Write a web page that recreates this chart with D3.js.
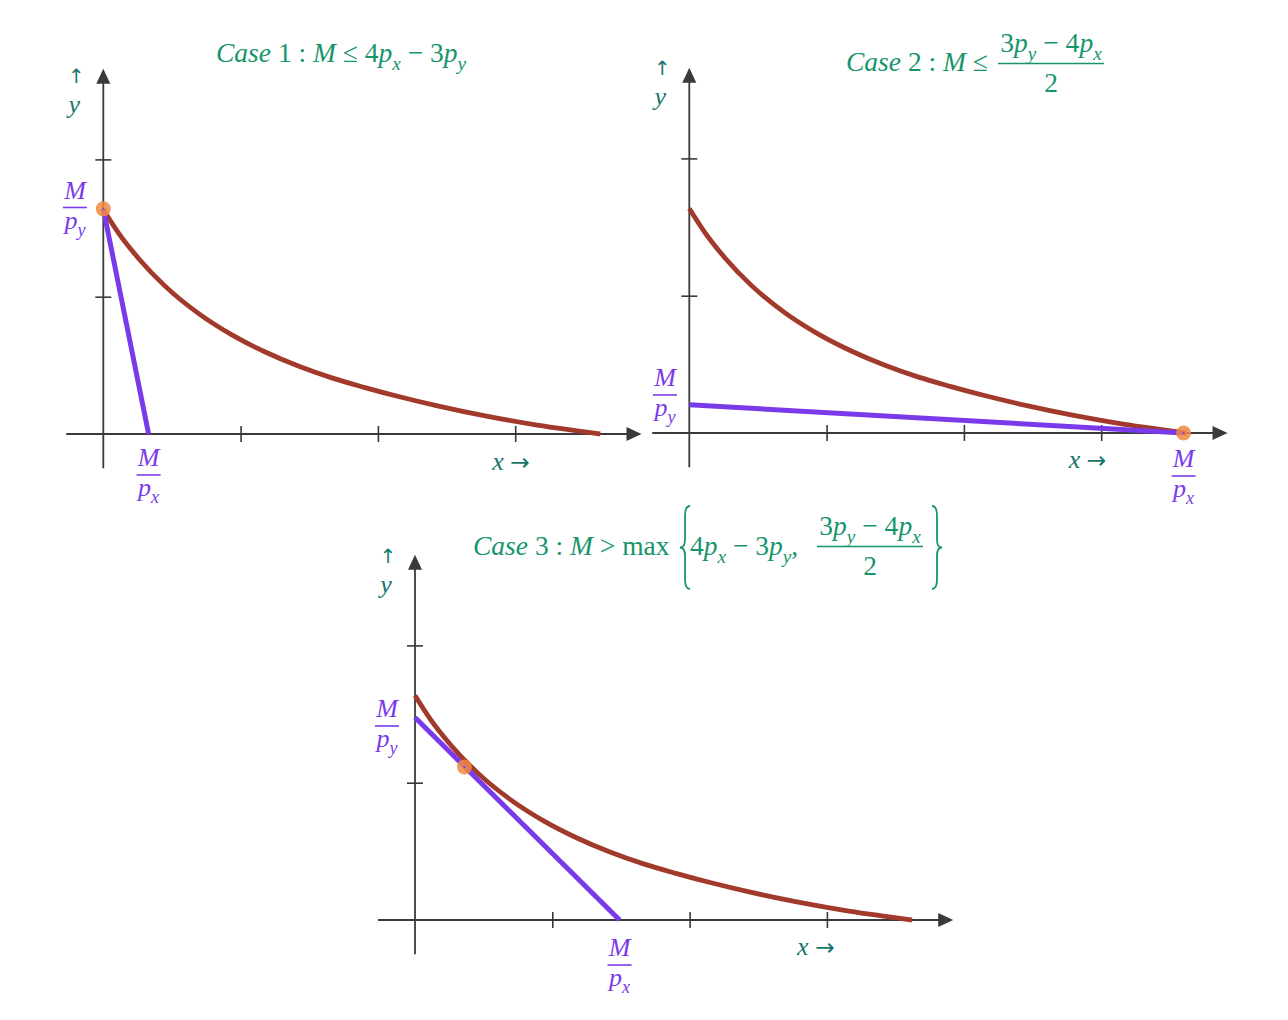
<!DOCTYPE html>
<html><head><meta charset="utf-8">
<script src="https://cdn.jsdelivr.net/npm/d3@7"></script>
<style>body{margin:0;background:#fff}</style>
</head><body>
<svg id="chart" width="1288" height="1020"></svg>
<script>
// ---- data (in axis units; one tick = 1 unit) ----
const curveX = [0, 0.11, 0.26, 0.45, 0.70, 0.94, 1.18, 1.42, 1.67, 1.90, 2.15, 2.45, 2.80, 3.16, 3.40, 3.62];
const curveY = [1.635, 1.465, 1.275, 1.077, 0.873, 0.72, 0.597, 0.495, 0.407, 0.34, 0.273, 0.201, 0.128, 0.065, 0.03, 0];
const budgetXIntercept = [0.33, 3.60, 1.49];
const budgetYIntercept = [1.64, 0.205, 1.475];
const optimumX = [0, 3.60, 0.36];
const optimumY = [1.64, 0, 1.115];
const xTicks = [1, 2, 3];
const yTicks = [1, 2];
const caseNumbers = ["1", "2", "3"];

// ---- layout ----
const unit = 137.3;
const panels = [
  {ox: 103.3, oy: 434, pyLab: {x: 75, bar: 207.5}, pxLab: {bar: 475}, xLab: {u: 2.97, dy: 36}, yLab: {dx: -27, dy: -357}},
  {ox: 689.3, oy: 433, pyLab: {x: 665, bar: 395}, pxLab: {bar: 476}, xLab: {u: 2.90, dy: 35}, yLab: {dx: -27, dy: -364}},
  {ox: 415, oy: 920, pyLab: {x: 387, bar: 726}, pxLab: {bar: 965}, xLab: {u: 2.92, dy: 35}, yLab: {dx: -27, dy: -363}}
];
const C = {axis: "#3a3a3a", curve: "#a23a2c", budget: "#7b3aea", dot: "#f08a42", title: "#17956a", label: "#17776c"};
const FONT = "'Liberation Serif','DejaVu Serif',serif";
const ARROWFONT = "'DejaVu Sans',sans-serif";

const svg = d3.select("#chart");

function mtext(g, x, y, parts, size, color, anchor) {
  const t = g.append("text").attr("x", x).attr("y", y)
    .attr("font-family", FONT).attr("font-size", size).attr("fill", color)
    .attr("text-anchor", anchor || "start");
  let off = 0;
  parts.forEach(p => {
    const s = t.append("tspan").text(p.t);
    let target = 0;
    if (p.sub) { target = size * 0.28; s.attr("font-size", size * 0.7).attr("font-style", "italic"); }
    else if (p.i) s.attr("font-style", "italic");
    if (p.a) s.attr("font-family", ARROWFONT).attr("font-size", size * 0.9);
    if (target !== off) { s.attr("dy", target - off); off = target; }
  });
  return t;
}
function frac(g, cx, bar, num, den, size, color, half, nOff, dOff) {
  mtext(g, cx, bar - nOff, num, size, color, "middle");
  g.append("line").attr("x1", cx - half).attr("x2", cx + half).attr("y1", bar).attr("y2", bar)
    .attr("stroke", color).attr("stroke-width", 1.6);
  mtext(g, cx, bar + dOff, den, size, color, "middle");
}
const I = t => ({t, i: true}), R = t => ({t}), S = t => ({t, sub: true}), A = t => ({t, a: true});

panels.forEach((P, k) => {
  const g = svg.append("g");
  const x = d3.scaleLinear().domain([0, 1]).range([P.ox, P.ox + unit]);
  const y = d3.scaleLinear().domain([0, 1]).range([P.oy, P.oy - unit]);

  // axes lines
  g.append("line").attr("x1", x(-0.27)).attr("x2", x(3.82)).attr("y1", y(0)).attr("y2", y(0))
    .attr("stroke", C.axis).attr("stroke-width", 1.8);
  g.append("line").attr("x1", x(0)).attr("x2", x(0)).attr("y1", y(-0.25)).attr("y2", y(2.56))
    .attr("stroke", C.axis).attr("stroke-width", 1.8);
  const tx = x(3.92), ty = y(2.66);
  g.append("path").attr("d", `M${tx},${y(0)} L${tx - 15},${y(0) - 7} L${tx - 15},${y(0) + 7} Z`).attr("fill", C.axis);
  g.append("path").attr("d", `M${x(0)},${ty} L${x(0) - 7},${ty + 15} L${x(0) + 7},${ty + 15} Z`).attr("fill", C.axis);

  // ticks through d3 axes
  const xa = g.append("g").attr("transform", `translate(0,${y(0) - 8})`)
    .call(d3.axisBottom(x).tickValues(xTicks).tickSize(16).tickFormat(""));
  const ya = g.append("g").attr("transform", `translate(${x(0) + 8},0)`)
    .call(d3.axisLeft(y).tickValues(yTicks).tickSize(16).tickFormat(""));
  [xa, ya].forEach(a => { a.select(".domain").remove(); a.selectAll("line").attr("stroke", C.axis).attr("stroke-width", 1.6); });

  // indifference curve
  const pts = curveX.map((v, i) => [v, curveY[i]]);
  g.append("path").datum(pts)
    .attr("d", d3.line().x(d => x(d[0])).y(d => y(d[1])).curve(d3.curveMonotoneX))
    .attr("fill", "none").attr("stroke", C.curve).attr("stroke-width", 4.8);

  // budget line
  g.append("path").datum([[0, budgetYIntercept[k]], [budgetXIntercept[k], 0]])
    .attr("d", d3.line().x(d => x(d[0])).y(d => y(d[1])))
    .attr("fill", "none").attr("stroke", C.budget).attr("stroke-width", 5);

  // optimum
  g.append("circle").attr("cx", x(optimumX[k])).attr("cy", y(optimumY[k])).attr("r", 7.5)
    .attr("fill", C.dot).attr("opacity", 0.85);
  g.append("circle").attr("cx", x(optimumX[k])).attr("cy", y(optimumY[k])).attr("r", 1)
    .attr("fill", C.budget);

  // axis names
  mtext(g, x(0) + P.yLab.dx, y(0) + P.yLab.dy + 6, [A("↑")], 22, C.label, "middle");
  mtext(g, x(0) + P.yLab.dx - 2, y(0) + P.yLab.dy + 36, [I("y")], 26, C.label, "middle");
  mtext(g, x(P.xLab.u), y(0) + P.xLab.dy, [I("x"), R(" "), A("→")], 26, C.label, "middle");

  // intercept labels
  frac(g, P.pyLab.x, P.pyLab.bar, [I("M")], [I("p"), S("y")], 26, C.budget, 12, 9, 21);
  frac(g, x(budgetXIntercept[k]), P.pxLab.bar, [I("M")], [I("p"), S("x")], 26, C.budget, 12, 9, 21);
});

// ---- titles ----
const tg = svg.append("g");
const TS = 27.5;
function caseTitle(x0, y0, idx, rest) {
  return mtext(tg, x0, y0, [I("Case"), R(" " + caseNumbers[idx] + " : "), I("M"), ...rest], TS, C.title);
}
caseTitle(216, 62, 0, [R(" ≤ 4"), I("p"), S("x"), R(" − 3"), I("p"), S("y")]);
caseTitle(846, 71, 1, [R(" ≤")]);
frac(tg, 1051, 63.5, [R("3"), I("p"), S("y"), R(" − 4"), I("p"), S("x")], [R("2")], TS, C.title, 53, 11.5, 28);
caseTitle(473, 555, 2, [R(" > max")]);

function brace(xc, top, bot, dir) {
  const m = (top + bot) / 2, w = 5 * dir;
  const p = d3.path();
  p.moveTo(xc + w, top);
  p.quadraticCurveTo(xc, top, xc, top + 10);
  p.lineTo(xc, m - 8);
  p.quadraticCurveTo(xc, m, xc - w, m);
  p.quadraticCurveTo(xc, m, xc, m + 8);
  p.lineTo(xc, bot - 10);
  p.quadraticCurveTo(xc, bot, xc + w, bot);
  tg.append("path").attr("d", p.toString()).attr("fill", "none").attr("stroke", C.title).attr("stroke-width", 1.8);
}
brace(685, 506, 589, 1);
brace(937, 506, 589, -1);
mtext(tg, 690, 555, [R("4"), I("p"), S("x"), R(" − 3"), I("p"), S("y"), R(",")], TS, C.title);
frac(tg, 870, 546.5, [R("3"), I("p"), S("y"), R(" − 4"), I("p"), S("x")], [R("2")], TS, C.title, 53, 11.5, 28);
</script>
</body></html>
